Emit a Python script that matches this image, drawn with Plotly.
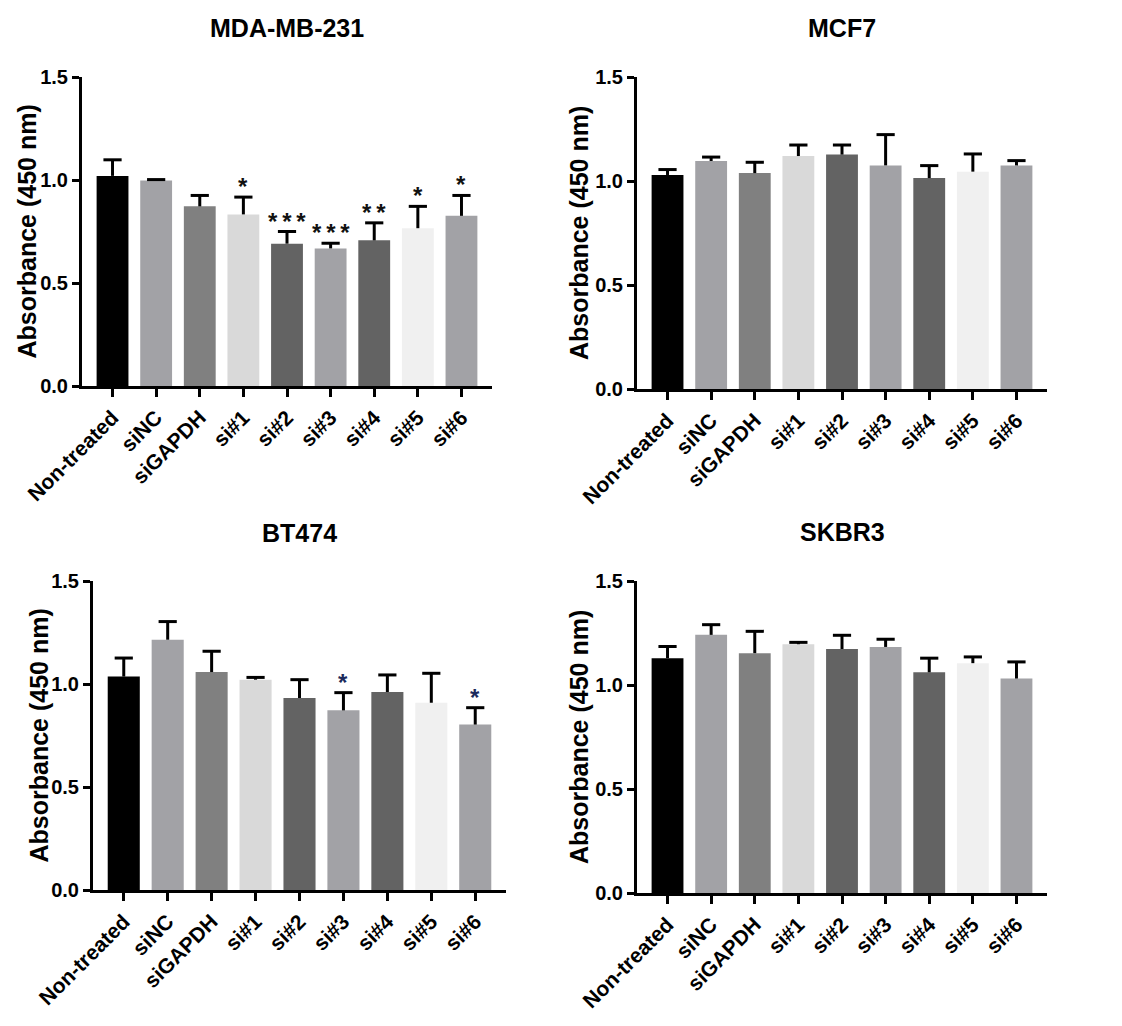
import plotly.graph_objects as go

# ---------------- data ----------------
categories = ["Non-treated", "siNC", "siGAPDH", "si#1", "si#2", "si#3", "si#4", "si#5", "si#6"]

mda_mean = [1.020, 0.997, 0.872, 0.833, 0.691, 0.668, 0.707, 0.766, 0.826]
mda_err = [0.078, 0.005, 0.053, 0.084, 0.059, 0.025, 0.085, 0.106, 0.099]
mda_sig = ["", "", "", "*", "***", "***", "**", "*", "*"]

mcf7_mean = [1.029, 1.096, 1.038, 1.120, 1.127, 1.075, 1.014, 1.045, 1.075]
mcf7_err = [0.026, 0.019, 0.052, 0.053, 0.046, 0.148, 0.060, 0.085, 0.023]
mcf7_sig = ["", "", "", "", "", "", "", "", ""]

bt474_mean = [1.036, 1.215, 1.058, 1.021, 0.932, 0.872, 0.961, 0.909, 0.803]
bt474_err = [0.090, 0.088, 0.101, 0.011, 0.089, 0.086, 0.083, 0.143, 0.082]
bt474_sig = ["", "", "", "", "", "*", "", "", "*"]

skbr3_mean = [1.129, 1.241, 1.153, 1.196, 1.173, 1.183, 1.061, 1.105, 1.031]
skbr3_err = [0.056, 0.049, 0.105, 0.009, 0.066, 0.037, 0.068, 0.030, 0.080]
skbr3_sig = ["", "", "", "", "", "", "", "", ""]

panel_titles = ["MDA-MB-231", "MCF7", "BT474", "SKBR3"]
y_title = "Absorbance (450 nm)"
y_ticks = [0.0, 0.5, 1.0, 1.5]

# ---------------- style ----------------
bar_colors = ["#000000", "#a2a2a6", "#808080", "#d9d9d9", "#636363",
              "#a2a2a6", "#636363", "#f0f0f0", "#a2a2a6"]
FONT = "Liberation Sans, Arial, sans-serif"
W, H = 1122, 1026

# pixel boxes of each plot area: (left, right, top, bottom)
boxes = [(82, 492, 77, 386), (637, 1047, 77, 389),
         (93, 506, 581, 890), (637, 1047, 581, 893)]
ytitle_x = [27, 579, 38, 579]
title_y = [28, 28, 533, 532]
star_colors = ["#111111", "#111111", "#1c2a5c", "#1c2a5c"]

panels = [(mda_mean, mda_err, mda_sig), (mcf7_mean, mcf7_err, mcf7_sig),
          (bt474_mean, bt474_err, bt474_sig), (skbr3_mean, skbr3_err, skbr3_sig)]

idx = list(range(len(categories)))
fig = go.Figure()
annotations = []
layout = {}

for p, (mean, err, sig) in enumerate(panels):
    n = "" if p == 0 else str(p + 1)
    xa, ya = "x" + n, "y" + n
    fig.add_trace(go.Bar(x=idx, y=mean, marker=dict(color=bar_colors, line=dict(width=0)),
                         width=0.73, xaxis=xa, yaxis=ya, showlegend=False,
                         hoverinfo="y"))
    # error bar stems (upper only)
    ex, ey = [], []
    for i in idx:
        ex += [i, i, None]
        ey += [mean[i], mean[i] + err[i], None]
    fig.add_trace(go.Scatter(x=ex, y=ey, mode="lines", line=dict(color="black", width=3),
                             xaxis=xa, yaxis=ya, showlegend=False, hoverinfo="skip"))
    # caps
    fig.add_trace(go.Scatter(x=idx, y=[m + e for m, e in zip(mean, err)], mode="markers",
                             marker=dict(symbol="line-ew", size=13,
                                         line=dict(color="black", width=3)),
                             xaxis=xa, yaxis=ya, showlegend=False, hoverinfo="skip"))
    # significance stars
    for i in idx:
        if sig[i]:
            annotations.append(dict(x=i, y=mean[i] + err[i], xref=xa, yref=ya,
                                    text="\u2009".join(sig[i]), showarrow=False,
                                    yanchor="bottom", yshift=-5,
                                    font=dict(family=FONT, size=24, color=star_colors[p],
                                              weight="bold")))
    l, r, t, b = boxes[p]
    layout["xaxis" + n] = dict(domain=[l / W, r / W], range=[-0.7, 8.7], anchor=ya,
                               tickvals=idx, ticktext=categories, tickangle=-45,
                               showline=True, linecolor="black", linewidth=3,
                               ticks="outside", ticklen=8, tickwidth=3, tickcolor="black",
                               showgrid=False, zeroline=False, fixedrange=True,
                               automargin=False,
                               tickfont=dict(family=FONT, size=21, color="black",
                                             weight="bold"))
    layout["yaxis" + n] = dict(domain=[1 - b / H, 1 - t / H], range=[0, 1.5], anchor=xa,
                               tickvals=y_ticks, tickformat=".1f",
                               showline=True, linecolor="black", linewidth=3,
                               ticks="outside", ticklen=7, tickwidth=3, tickcolor="black",
                               showgrid=False, zeroline=False, fixedrange=True,
                               automargin=False,
                               tickfont=dict(family=FONT, size=20, color="black",
                                             weight="bold"))
    # panel title
    annotations.append(dict(x=(l + r) / 2 / W, y=1 - title_y[p] / H, xref="paper",
                            yref="paper", text=panel_titles[p], showarrow=False,
                            xanchor="center", yanchor="middle",
                            font=dict(family=FONT, size=25, color="black", weight="bold")))
    # y-axis title
    annotations.append(dict(x=ytitle_x[p] / W, y=1 - (t + b) / 2 / H, xref="paper",
                            yref="paper", text=y_title, showarrow=False, textangle=-90,
                            xanchor="center", yanchor="middle",
                            font=dict(family=FONT, size=25, color="black", weight="bold")))

fig.update_layout(width=W, height=H,
                  margin=dict(l=0, r=0, t=0, b=0, pad=0, autoexpand=False),
                  paper_bgcolor="white", plot_bgcolor="white",
                  bargap=0.27, annotations=annotations, **layout)

fig.write_html("out.html")
